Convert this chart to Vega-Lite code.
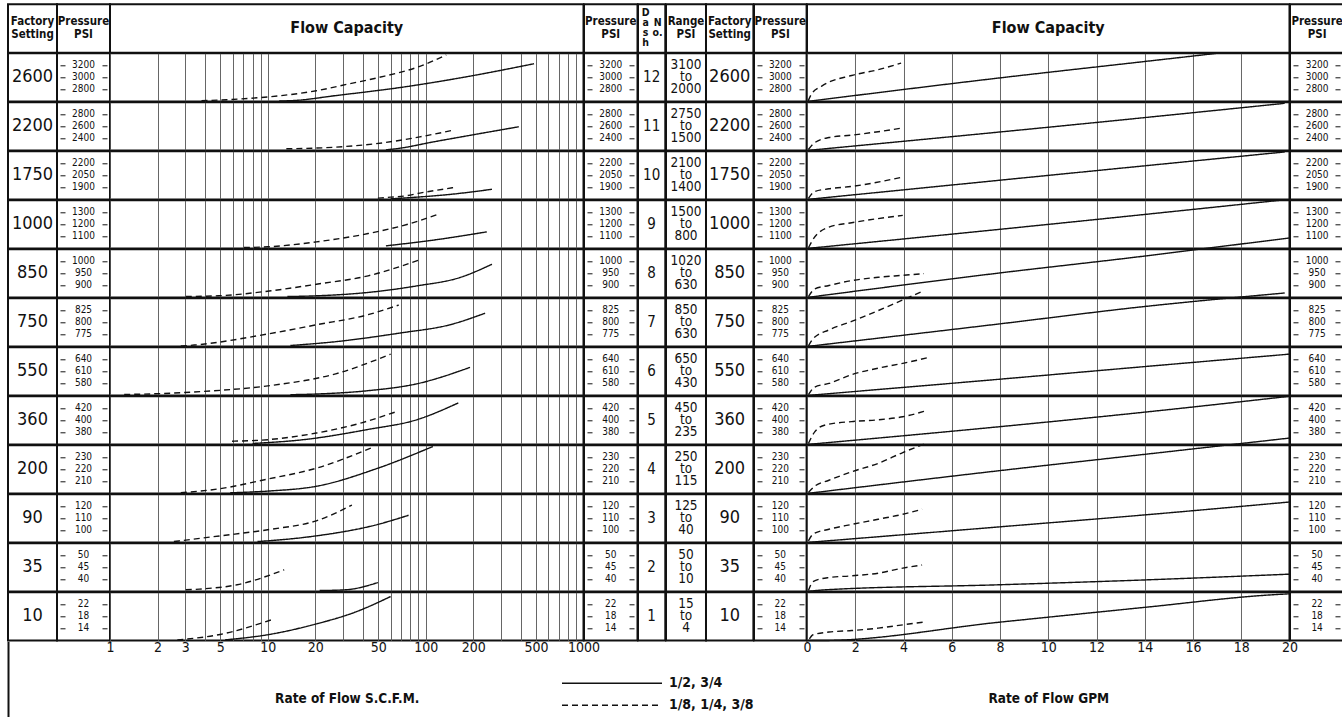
{
"$schema":"https://vega.github.io/schema/vega-lite/v6.json",
"padding":{"left":7,"top":3.3,"right":0,"bottom":0},
"columns":10,"spacing":0,"bounds":"flush","align":"each",
"datasets":{
"p":[
{"r":1,"psi":3200},{"r":1,"psi":3000},{"r":1,"psi":2800},
{"r":2,"psi":2800},{"r":2,"psi":2600},{"r":2,"psi":2400},
{"r":3,"psi":2200},{"r":3,"psi":2050},{"r":3,"psi":1900},
{"r":4,"psi":1300},{"r":4,"psi":1200},{"r":4,"psi":1100},
{"r":5,"psi":1000},{"r":5,"psi":950},{"r":5,"psi":900},
{"r":6,"psi":825},{"r":6,"psi":800},{"r":6,"psi":775},
{"r":7,"psi":640},{"r":7,"psi":610},{"r":7,"psi":580},
{"r":8,"psi":420},{"r":8,"psi":400},{"r":8,"psi":380},
{"r":9,"psi":230},{"r":9,"psi":220},{"r":9,"psi":210},
{"r":10,"psi":120},{"r":10,"psi":110},{"r":10,"psi":100},
{"r":11,"psi":50},{"r":11,"psi":45},{"r":11,"psi":40},
{"r":12,"psi":22},{"r":12,"psi":18},{"r":12,"psi":14}],
"c":[
{"r":1,"u":"S","s":"1/8, 1/4, 3/8","flow":3.8,"psi":2612},{"r":1,"u":"S","s":"1/8, 1/4, 3/8","flow":5.5,"psi":2630},{"r":1,"u":"S","s":"1/8, 1/4, 3/8","flow":10.5,"psi":2681},{"r":1,"u":"S","s":"1/8, 1/4, 3/8","flow":20.3,"psi":2778},{"r":1,"u":"S","s":"1/8, 1/4, 3/8","flow":31.8,"psi":2886},{"r":1,"u":"S","s":"1/8, 1/4, 3/8","flow":49.8,"psi":2995},{"r":1,"u":"S","s":"1/8, 1/4, 3/8","flow":91.8,"psi":3184},{"r":1,"u":"S","s":"1/8, 1/4, 3/8","flow":135,"psi":3373},
{"r":1,"u":"S","s":"1/2, 3/4","flow":11.8,"psi":2608},{"r":1,"u":"S","s":"1/2, 3/4","flow":14.6,"psi":2616},{"r":1,"u":"S","s":"1/2, 3/4","flow":26.9,"psi":2698},{"r":1,"u":"S","s":"1/2, 3/4","flow":69,"psi":2832},{"r":1,"u":"S","s":"1/2, 3/4","flow":182,"psi":3011},{"r":1,"u":"S","s":"1/2, 3/4","flow":486,"psi":3227},
{"r":2,"u":"S","s":"1/8, 1/4, 3/8","flow":13.1,"psi":2228},{"r":2,"u":"S","s":"1/8, 1/4, 3/8","flow":26.9,"psi":2256},{"r":2,"u":"S","s":"1/8, 1/4, 3/8","flow":54.6,"psi":2330},{"r":2,"u":"S","s":"1/8, 1/4, 3/8","flow":91.8,"psi":2426},{"r":2,"u":"S","s":"1/8, 1/4, 3/8","flow":150,"psi":2538},
{"r":2,"u":"S","s":"1/2, 3/4","flow":56,"psi":2211},{"r":2,"u":"S","s":"1/2, 3/4","flow":69,"psi":2239},{"r":2,"u":"S","s":"1/2, 3/4","flow":111,"psi":2341},{"r":2,"u":"S","s":"1/2, 3/4","flow":182,"psi":2442},{"r":2,"u":"S","s":"1/2, 3/4","flow":389,"psi":2594},
{"r":3,"u":"S","s":"1/8, 1/4, 3/8","flow":49.8,"psi":1767},{"r":3,"u":"S","s":"1/8, 1/4, 3/8","flow":60,"psi":1779},{"r":3,"u":"S","s":"1/8, 1/4, 3/8","flow":72.6,"psi":1792},{"r":3,"u":"S","s":"1/8, 1/4, 3/8","flow":91.8,"psi":1830},{"r":3,"u":"S","s":"1/8, 1/4, 3/8","flow":150,"psi":1898},
{"r":3,"u":"S","s":"1/2, 3/4","flow":60,"psi":1758},{"r":3,"u":"S","s":"1/2, 3/4","flow":87.6,"psi":1779},{"r":3,"u":"S","s":"1/2, 3/4","flow":142,"psi":1813},{"r":3,"u":"S","s":"1/2, 3/4","flow":263,"psi":1877},
{"r":4,"u":"S","s":"1/8, 1/4, 3/8","flow":7.05,"psi":1008},{"r":4,"u":"S","s":"1/8, 1/4, 3/8","flow":10,"psi":1014},{"r":4,"u":"S","s":"1/8, 1/4, 3/8","flow":20.3,"psi":1055},{"r":4,"u":"S","s":"1/8, 1/4, 3/8","flow":43.2,"psi":1124},{"r":4,"u":"S","s":"1/8, 1/4, 3/8","flow":79.7,"psi":1207},{"r":4,"u":"S","s":"1/8, 1/4, 3/8","flow":120,"psi":1284},
{"r":4,"u":"S","s":"1/2, 3/4","flow":56,"psi":1022},{"r":4,"u":"S","s":"1/2, 3/4","flow":111,"psi":1069},{"r":4,"u":"S","s":"1/2, 3/4","flow":244,"psi":1138},
{"r":5,"u":"S","s":"1/8, 1/4, 3/8","flow":3.02,"psi":854},{"r":5,"u":"S","s":"1/8, 1/4, 3/8","flow":4.85,"psi":857},{"r":5,"u":"S","s":"1/8, 1/4, 3/8","flow":10.5,"psi":878},{"r":5,"u":"S","s":"1/8, 1/4, 3/8","flow":20.3,"psi":905},{"r":5,"u":"S","s":"1/8, 1/4, 3/8","flow":43.2,"psi":940},{"r":5,"u":"S","s":"1/8, 1/4, 3/8","flow":94,"psi":1009},
{"r":5,"u":"S","s":"1/2, 3/4","flow":13.3,"psi":854},{"r":5,"u":"S","s":"1/2, 3/4","flow":20.3,"psi":857},{"r":5,"u":"S","s":"1/2, 3/4","flow":43.2,"psi":871},{"r":5,"u":"S","s":"1/2, 3/4","flow":87.6,"psi":898},{"r":5,"u":"S","s":"1/2, 3/4","flow":165,"psi":933},{"r":5,"u":"S","s":"1/2, 3/4","flow":263,"psi":988},
{"r":6,"u":"S","s":"1/8, 1/4, 3/8","flow":2.81,"psi":751},{"r":6,"u":"S","s":"1/8, 1/4, 3/8","flow":3.42,"psi":753},{"r":6,"u":"S","s":"1/8, 1/4, 3/8","flow":10,"psi":776},{"r":6,"u":"S","s":"1/8, 1/4, 3/8","flow":20.3,"psi":795},{"r":6,"u":"S","s":"1/8, 1/4, 3/8","flow":43.2,"psi":816},{"r":6,"u":"S","s":"1/8, 1/4, 3/8","flow":67.6,"psi":836},
{"r":6,"u":"S","s":"1/2, 3/4","flow":13.9,"psi":752},{"r":6,"u":"S","s":"1/2, 3/4","flow":26.9,"psi":760},{"r":6,"u":"S","s":"1/2, 3/4","flow":69,"psi":778},{"r":6,"u":"S","s":"1/2, 3/4","flow":142,"psi":795},{"r":6,"u":"S","s":"1/2, 3/4","flow":238,"psi":819},
{"r":7,"u":"S","s":"1/8, 1/4, 3/8","flow":1.23,"psi":552.5},{"r":7,"u":"S","s":"1/8, 1/4, 3/8","flow":1.84,"psi":554},{"r":7,"u":"S","s":"1/8, 1/4, 3/8","flow":3.88,"psi":560},{"r":7,"u":"S","s":"1/8, 1/4, 3/8","flow":10.5,"psi":575},{"r":7,"u":"S","s":"1/8, 1/4, 3/8","flow":26.9,"psi":604},{"r":7,"u":"S","s":"1/8, 1/4, 3/8","flow":60,"psi":653},
{"r":7,"u":"S","s":"1/2, 3/4","flow":13.9,"psi":552},{"r":7,"u":"S","s":"1/2, 3/4","flow":21.3,"psi":554},{"r":7,"u":"S","s":"1/2, 3/4","flow":43.2,"psi":562},{"r":7,"u":"S","s":"1/2, 3/4","flow":87.6,"psi":579},{"r":7,"u":"S","s":"1/2, 3/4","flow":191,"psi":620},
{"r":8,"u":"S","s":"1/8, 1/4, 3/8","flow":5.93,"psi":365.5},{"r":8,"u":"S","s":"1/8, 1/4, 3/8","flow":10,"psi":368},{"r":8,"u":"S","s":"1/8, 1/4, 3/8","flow":20.3,"psi":379},{"r":8,"u":"S","s":"1/8, 1/4, 3/8","flow":39.3,"psi":396},{"r":8,"u":"S","s":"1/8, 1/4, 3/8","flow":66,"psi":415},
{"r":8,"u":"S","s":"1/2, 3/4","flow":8,"psi":361.7},{"r":8,"u":"S","s":"1/2, 3/4","flow":16.8,"psi":368},{"r":8,"u":"S","s":"1/2, 3/4","flow":43.2,"psi":385},{"r":8,"u":"S","s":"1/2, 3/4","flow":87.6,"psi":401},{"r":8,"u":"S","s":"1/2, 3/4","flow":161,"psi":429},
{"r":9,"u":"S","s":"1/8, 1/4, 3/8","flow":2.81,"psi":200.6},{"r":9,"u":"S","s":"1/8, 1/4, 3/8","flow":4.98,"psi":204},{"r":9,"u":"S","s":"1/8, 1/4, 3/8","flow":10,"psi":212},{"r":9,"u":"S","s":"1/8, 1/4, 3/8","flow":20.3,"psi":221},{"r":9,"u":"S","s":"1/8, 1/4, 3/8","flow":47.4,"psi":239},
{"r":9,"u":"S","s":"1/2, 3/4","flow":5.78,"psi":200.6},{"r":9,"u":"S","s":"1/2, 3/4","flow":10,"psi":202},{"r":9,"u":"S","s":"1/2, 3/4","flow":20.3,"psi":206},{"r":9,"u":"S","s":"1/2, 3/4","flow":49.8,"psi":221},{"r":9,"u":"S","s":"1/2, 3/4","flow":111,"psi":239},
{"r":10,"u":"S","s":"1/8, 1/4, 3/8","flow":2.54,"psi":90.8},{"r":10,"u":"S","s":"1/8, 1/4, 3/8","flow":4.98,"psi":95.5},{"r":10,"u":"S","s":"1/8, 1/4, 3/8","flow":10.5,"psi":101},{"r":10,"u":"S","s":"1/8, 1/4, 3/8","flow":20.3,"psi":108},{"r":10,"u":"S","s":"1/8, 1/4, 3/8","flow":34.1,"psi":121},
{"r":10,"u":"S","s":"1/2, 3/4","flow":8.6,"psi":90.8},{"r":10,"u":"S","s":"1/2, 3/4","flow":10.5,"psi":91.6},{"r":10,"u":"S","s":"1/2, 3/4","flow":20.3,"psi":95.5},{"r":10,"u":"S","s":"1/2, 3/4","flow":49.8,"psi":105},{"r":10,"u":"S","s":"1/2, 3/4","flow":77.9,"psi":112.6},
{"r":11,"u":"S","s":"1/8, 1/4, 3/8","flow":3.02,"psi":35.7},{"r":11,"u":"S","s":"1/8, 1/4, 3/8","flow":3.69,"psi":36},{"r":11,"u":"S","s":"1/8, 1/4, 3/8","flow":6.39,"psi":37.8},{"r":11,"u":"S","s":"1/8, 1/4, 3/8","flow":12.7,"psi":44},
{"r":11,"u":"S","s":"1/2, 3/4","flow":21.3,"psi":35.4},{"r":11,"u":"S","s":"1/2, 3/4","flow":31,"psi":35.7},{"r":11,"u":"S","s":"1/2, 3/4","flow":49.8,"psi":38.7},
{"r":12,"u":"S","s":"1/8, 1/4, 3/8","flow":2.67,"psi":10.2},{"r":12,"u":"S","s":"1/8, 1/4, 3/8","flow":4.98,"psi":12},{"r":12,"u":"S","s":"1/8, 1/4, 3/8","flow":11,"psi":17.2},
{"r":12,"u":"S","s":"1/2, 3/4","flow":5.36,"psi":10.2},{"r":12,"u":"S","s":"1/2, 3/4","flow":10.2,"psi":12},{"r":12,"u":"S","s":"1/2, 3/4","flow":20.3,"psi":15.5},{"r":12,"u":"S","s":"1/2, 3/4","flow":35.7,"psi":19.4},{"r":12,"u":"S","s":"1/2, 3/4","flow":60,"psi":24.6},
{"r":1,"u":"G","s":"1/8, 1/4, 3/8","flow":0.05,"psi":2610},{"r":1,"u":"G","s":"1/8, 1/4, 3/8","flow":0.18,"psi":2720},{"r":1,"u":"G","s":"1/8, 1/4, 3/8","flow":0.61,"psi":2856},{"r":1,"u":"G","s":"1/8, 1/4, 3/8","flow":1.85,"psi":3032},{"r":1,"u":"G","s":"1/8, 1/4, 3/8","flow":2.95,"psi":3128},{"r":1,"u":"G","s":"1/8, 1/4, 3/8","flow":3.9,"psi":3237},
{"r":1,"u":"G","s":"1/2, 3/4","flow":0,"psi":2600},{"r":1,"u":"G","s":"1/2, 3/4","flow":8,"psi":2992},{"r":1,"u":"G","s":"1/2, 3/4","flow":14,"psi":3264},{"r":1,"u":"G","s":"1/2, 3/4","flow":17,"psi":3400},
{"r":2,"u":"G","s":"1/8, 1/4, 3/8","flow":0.06,"psi":2217},{"r":2,"u":"G","s":"1/8, 1/4, 3/8","flow":0.32,"psi":2330},{"r":2,"u":"G","s":"1/8, 1/4, 3/8","flow":0.91,"psi":2416},{"r":2,"u":"G","s":"1/8, 1/4, 3/8","flow":1.85,"psi":2455},{"r":2,"u":"G","s":"1/8, 1/4, 3/8","flow":2.95,"psi":2512},{"r":2,"u":"G","s":"1/8, 1/4, 3/8","flow":3.97,"psi":2574},
{"r":2,"u":"G","s":"1/2, 3/4","flow":0,"psi":2200},{"r":2,"u":"G","s":"1/2, 3/4","flow":10,"psi":2586},{"r":2,"u":"G","s":"1/2, 3/4","flow":19.8,"psi":2983},
{"r":3,"u":"G","s":"1/8, 1/4, 3/8","flow":0.06,"psi":1763},{"r":3,"u":"G","s":"1/8, 1/4, 3/8","flow":0.32,"psi":1849},{"r":3,"u":"G","s":"1/8, 1/4, 3/8","flow":0.91,"psi":1883},{"r":3,"u":"G","s":"1/8, 1/4, 3/8","flow":1.85,"psi":1913},{"r":3,"u":"G","s":"1/8, 1/4, 3/8","flow":3.97,"psi":2029},
{"r":3,"u":"G","s":"1/2, 3/4","flow":0,"psi":1750},{"r":3,"u":"G","s":"1/2, 3/4","flow":10,"psi":2050},{"r":3,"u":"G","s":"1/2, 3/4","flow":19.8,"psi":2342},
{"r":4,"u":"G","s":"1/8, 1/4, 3/8","flow":0.06,"psi":1006},{"r":4,"u":"G","s":"1/8, 1/4, 3/8","flow":0.25,"psi":1075},{"r":4,"u":"G","s":"1/8, 1/4, 3/8","flow":0.91,"psi":1178},{"r":4,"u":"G","s":"1/8, 1/4, 3/8","flow":1.85,"psi":1214},{"r":4,"u":"G","s":"1/8, 1/4, 3/8","flow":3.97,"psi":1275},
{"r":4,"u":"G","s":"1/2, 3/4","flow":0,"psi":1000},{"r":4,"u":"G","s":"1/2, 3/4","flow":10,"psi":1200},{"r":4,"u":"G","s":"1/2, 3/4","flow":19.6,"psi":1400},
{"r":5,"u":"G","s":"1/8, 1/4, 3/8","flow":0.06,"psi":854},{"r":5,"u":"G","s":"1/8, 1/4, 3/8","flow":0.32,"psi":885},{"r":5,"u":"G","s":"1/8, 1/4, 3/8","flow":0.91,"psi":900},{"r":5,"u":"G","s":"1/8, 1/4, 3/8","flow":1.85,"psi":920},{"r":5,"u":"G","s":"1/8, 1/4, 3/8","flow":2.95,"psi":934},{"r":5,"u":"G","s":"1/8, 1/4, 3/8","flow":3.97,"psi":942},{"r":5,"u":"G","s":"1/8, 1/4, 3/8","flow":4.85,"psi":949},
{"r":5,"u":"G","s":"1/2, 3/4","flow":0,"psi":850},{"r":5,"u":"G","s":"1/2, 3/4","flow":8,"psi":952},{"r":5,"u":"G","s":"1/2, 3/4","flow":14,"psi":1022},{"r":5,"u":"G","s":"1/2, 3/4","flow":16,"psi":1047},{"r":5,"u":"G","s":"1/2, 3/4","flow":20,"psi":1097},
{"r":6,"u":"G","s":"1/8, 1/4, 3/8","flow":0.06,"psi":751.4},{"r":6,"u":"G","s":"1/8, 1/4, 3/8","flow":0.25,"psi":766},{"r":6,"u":"G","s":"1/8, 1/4, 3/8","flow":0.91,"psi":784.5},{"r":6,"u":"G","s":"1/8, 1/4, 3/8","flow":1.85,"psi":802},{"r":6,"u":"G","s":"1/8, 1/4, 3/8","flow":2.95,"psi":824.5},{"r":6,"u":"G","s":"1/8, 1/4, 3/8","flow":3.9,"psi":845},{"r":6,"u":"G","s":"1/8, 1/4, 3/8","flow":4.85,"psi":866},
{"r":6,"u":"G","s":"1/2, 3/4","flow":0,"psi":750},{"r":6,"u":"G","s":"1/2, 3/4","flow":8,"psi":797},{"r":6,"u":"G","s":"1/2, 3/4","flow":14,"psi":833},{"r":6,"u":"G","s":"1/2, 3/4","flow":19.8,"psi":861},
{"r":7,"u":"G","s":"1/8, 1/4, 3/8","flow":0.06,"psi":552},{"r":7,"u":"G","s":"1/8, 1/4, 3/8","flow":0.32,"psi":571},{"r":7,"u":"G","s":"1/8, 1/4, 3/8","flow":0.91,"psi":580},{"r":7,"u":"G","s":"1/8, 1/4, 3/8","flow":1.85,"psi":602},{"r":7,"u":"G","s":"1/8, 1/4, 3/8","flow":2.95,"psi":618},{"r":7,"u":"G","s":"1/8, 1/4, 3/8","flow":3.97,"psi":630},{"r":7,"u":"G","s":"1/8, 1/4, 3/8","flow":5.07,"psi":645},
{"r":7,"u":"G","s":"1/2, 3/4","flow":0,"psi":550},{"r":7,"u":"G","s":"1/2, 3/4","flow":8,"psi":590.6},{"r":7,"u":"G","s":"1/2, 3/4","flow":14,"psi":622},{"r":7,"u":"G","s":"1/2, 3/4","flow":20,"psi":653},
{"r":8,"u":"G","s":"1/8, 1/4, 3/8","flow":0.06,"psi":361.7},{"r":8,"u":"G","s":"1/8, 1/4, 3/8","flow":0.32,"psi":381},{"r":8,"u":"G","s":"1/8, 1/4, 3/8","flow":0.76,"psi":392.5},{"r":8,"u":"G","s":"1/8, 1/4, 3/8","flow":1.85,"psi":398},{"r":8,"u":"G","s":"1/8, 1/4, 3/8","flow":2.95,"psi":401},{"r":8,"u":"G","s":"1/8, 1/4, 3/8","flow":3.97,"psi":406},{"r":8,"u":"G","s":"1/8, 1/4, 3/8","flow":4.85,"psi":415},
{"r":8,"u":"G","s":"1/2, 3/4","flow":0,"psi":360},{"r":8,"u":"G","s":"1/2, 3/4","flow":8,"psi":389.6},{"r":8,"u":"G","s":"1/2, 3/4","flow":14,"psi":413.7},{"r":8,"u":"G","s":"1/2, 3/4","flow":20,"psi":440},
{"r":9,"u":"G","s":"1/8, 1/4, 3/8","flow":0.06,"psi":200.8},{"r":9,"u":"G","s":"1/8, 1/4, 3/8","flow":0.32,"psi":206},{"r":9,"u":"G","s":"1/8, 1/4, 3/8","flow":0.91,"psi":211},{"r":9,"u":"G","s":"1/8, 1/4, 3/8","flow":1.85,"psi":218},{"r":9,"u":"G","s":"1/8, 1/4, 3/8","flow":2.95,"psi":225},{"r":9,"u":"G","s":"1/8, 1/4, 3/8","flow":3.97,"psi":234},{"r":9,"u":"G","s":"1/8, 1/4, 3/8","flow":4.85,"psi":241},
{"r":9,"u":"G","s":"1/2, 3/4","flow":0,"psi":200},{"r":9,"u":"G","s":"1/2, 3/4","flow":8,"psi":219},{"r":9,"u":"G","s":"1/2, 3/4","flow":14,"psi":232.5},{"r":9,"u":"G","s":"1/2, 3/4","flow":16,"psi":237},{"r":9,"u":"G","s":"1/2, 3/4","flow":20,"psi":246},
{"r":10,"u":"G","s":"1/8, 1/4, 3/8","flow":0.06,"psi":91.4},{"r":10,"u":"G","s":"1/8, 1/4, 3/8","flow":0.25,"psi":96.9},{"r":10,"u":"G","s":"1/8, 1/4, 3/8","flow":0.91,"psi":101},{"r":10,"u":"G","s":"1/8, 1/4, 3/8","flow":1.85,"psi":105},{"r":10,"u":"G","s":"1/8, 1/4, 3/8","flow":2.95,"psi":109.3},{"r":10,"u":"G","s":"1/8, 1/4, 3/8","flow":3.97,"psi":113.4},{"r":10,"u":"G","s":"1/8, 1/4, 3/8","flow":4.77,"psi":117.6},
{"r":10,"u":"G","s":"1/2, 3/4","flow":0,"psi":90},{"r":10,"u":"G","s":"1/2, 3/4","flow":8,"psi":103},{"r":10,"u":"G","s":"1/2, 3/4","flow":14,"psi":112.9},{"r":10,"u":"G","s":"1/2, 3/4","flow":20,"psi":123.6},
{"r":11,"u":"G","s":"1/8, 1/4, 3/8","flow":0.06,"psi":35.4},{"r":11,"u":"G","s":"1/8, 1/4, 3/8","flow":0.25,"psi":39.1},{"r":11,"u":"G","s":"1/8, 1/4, 3/8","flow":0.91,"psi":40.8},{"r":11,"u":"G","s":"1/8, 1/4, 3/8","flow":1.85,"psi":41.5},{"r":11,"u":"G","s":"1/8, 1/4, 3/8","flow":2.95,"psi":42.6},{"r":11,"u":"G","s":"1/8, 1/4, 3/8","flow":3.97,"psi":44.7},{"r":11,"u":"G","s":"1/8, 1/4, 3/8","flow":4.77,"psi":46},
{"r":11,"u":"G","s":"1/2, 3/4","flow":0,"psi":35},{"r":11,"u":"G","s":"1/2, 3/4","flow":0.76,"psi":35.7},{"r":11,"u":"G","s":"1/2, 3/4","flow":8,"psi":37.8},{"r":11,"u":"G","s":"1/2, 3/4","flow":14,"psi":39.8},{"r":11,"u":"G","s":"1/2, 3/4","flow":20,"psi":42.2},
{"r":12,"u":"G","s":"1/8, 1/4, 3/8","flow":0.1,"psi":10.5},{"r":12,"u":"G","s":"1/8, 1/4, 3/8","flow":0.25,"psi":11.9},{"r":12,"u":"G","s":"1/8, 1/4, 3/8","flow":0.91,"psi":12.8},{"r":12,"u":"G","s":"1/8, 1/4, 3/8","flow":1.85,"psi":13.3},{"r":12,"u":"G","s":"1/8, 1/4, 3/8","flow":2.95,"psi":14.1},{"r":12,"u":"G","s":"1/8, 1/4, 3/8","flow":3.97,"psi":15.2},{"r":12,"u":"G","s":"1/8, 1/4, 3/8","flow":4.85,"psi":16.1},
{"r":12,"u":"G","s":"1/2, 3/4","flow":0,"psi":10},{"r":12,"u":"G","s":"1/2, 3/4","flow":0.6,"psi":10},{"r":12,"u":"G","s":"1/2, 3/4","flow":8,"psi":16.1},{"r":12,"u":"G","s":"1/2, 3/4","flow":14,"psi":21},{"r":12,"u":"G","s":"1/2, 3/4","flow":19.15,"psi":25.1},{"r":12,"u":"G","s":"1/2, 3/4","flow":20,"psi":25.5}
]},
"concat":[
{"width":49,"height":48.4,"data":{"values":[{"h":"Factory\nSetting"}]},"mark":{"type":"text","style":"hd"},"encoding":{"text":{"field":"h"}}},
{"width":53,"height":48.4,"data":{"values":[{"h":"Pressure\nPSI"}]},"mark":{"type":"text","style":"hd"},"encoding":{"text":{"field":"h"}}},
{"width":473.5,"height":48.4,"data":{"values":[{"h":"Flow Capacity"}]},"mark":{"type":"text","style":"hf"},"encoding":{"text":{"field":"h"}}},
{"width":53.5,"height":48.4,"data":{"values":[{"h":"Pressure\nPSI"}]},"mark":{"type":"text","style":"hd"},"encoding":{"text":{"field":"h"}}},
{"width":27.3,"height":48.4,"data":{"values":[{"h":"D\na\ns\nh","k":1},{"h":"N\no.","k":2}]},"layer":[{"transform":[{"filter":"datum.k==1"}],"mark":{"type":"text","style":"hd","fontSize":10.5,"dx":-6,"dy":-15,"lineHeight":10},"encoding":{"text":{"field":"h"}}},{"transform":[{"filter":"datum.k==2"}],"mark":{"type":"text","style":"hd","fontSize":10.5,"dx":6,"dy":-5,"lineHeight":10},"encoding":{"text":{"field":"h"}}}]},
{"width":40,"height":48.4,"data":{"values":[{"h":"Range\nPSI"}]},"mark":{"type":"text","style":"hd"},"encoding":{"text":{"field":"h"}}},
{"width":47.4,"height":48.4,"data":{"values":[{"h":"Factory\nSetting"}]},"mark":{"type":"text","style":"hd"},"encoding":{"text":{"field":"h"}}},
{"width":52.6,"height":48.4,"data":{"values":[{"h":"Pressure\nPSI"}]},"mark":{"type":"text","style":"hd"},"encoding":{"text":{"field":"h"}}},
{"width":482.5,"height":48.4,"data":{"values":[{"h":"Flow Capacity"}]},"mark":{"type":"text","style":"hf"},"encoding":{"text":{"field":"h"}}},
{"width":54.2,"height":48.4,"data":{"values":[{"h":"Pressure\nPSI"}]},"mark":{"type":"text","style":"hd"},"encoding":{"text":{"field":"h"}}},

{"width":49,"height":48.2,"data":{"values":[{"v":"2600"}]},"mark":{"type":"text","style":"st"},"encoding":{"text":{"field":"v"}}},
{"width":53,"height":48.2,"data":{"name":"p"},"transform":[{"filter":"datum.r==1"}],"mark":{"type":"text","style":"pl"},"encoding":{"y":{"field":"psi","type":"quantitative","scale":{"domain":[2600,3400]},"axis":{"values":[2800,3000,3200]}},"text":{"field":"psi","type":"quantitative","format":"d"}}},
{"width":473.5,"height":48.2,"data":{"name":"c"},"transform":[{"filter":"datum.r==1&&datum.u=='S'"}],"mark":{"type":"line","clip":true,"interpolate":"monotone"},"encoding":{"x":{"field":"flow","type":"quantitative","scale":{"type":"log","domain":[1,1000]}},"y":{"field":"psi","type":"quantitative","scale":{"domain":[2600,3400]},"axis":null},"strokeDash":{"field":"s","title":null,"scale":{"range":[[1,0],[6,4]]}}}},
{"width":53.5,"height":48.2,"data":{"name":"p"},"transform":[{"filter":"datum.r==1"}],"mark":{"type":"text","style":"pl"},"encoding":{"y":{"field":"psi","type":"quantitative","scale":{"domain":[2600,3400]},"axis":{"values":[2800,3000,3200]}},"text":{"field":"psi","type":"quantitative","format":"d"}}},
{"width":27.3,"height":48.2,"data":{"values":[{"v":"12"}]},"mark":{"type":"text","style":"ds"},"encoding":{"text":{"field":"v"}}},
{"width":40,"height":48.2,"data":{"values":[{"v":"3100\nto\n2000"}]},"mark":{"type":"text","style":"rg"},"encoding":{"text":{"field":"v"}}},
{"width":47.4,"height":48.2,"data":{"values":[{"v":"2600"}]},"mark":{"type":"text","style":"st"},"encoding":{"text":{"field":"v"}}},
{"width":52.6,"height":48.2,"data":{"name":"p"},"transform":[{"filter":"datum.r==1"}],"mark":{"type":"text","style":"pl"},"encoding":{"y":{"field":"psi","type":"quantitative","scale":{"domain":[2600,3400]},"axis":{"values":[2800,3000,3200]}},"text":{"field":"psi","type":"quantitative","format":"d"}}},
{"width":482.5,"height":48.2,"data":{"name":"c"},"transform":[{"filter":"datum.r==1&&datum.u=='G'"}],"mark":{"type":"line","clip":false,"interpolate":"monotone"},"encoding":{"x":{"field":"flow","type":"quantitative","scale":{"domain":[0,20]}},"y":{"field":"psi","type":"quantitative","scale":{"domain":[2600,3400]},"axis":null},"strokeDash":{"field":"s","title":null,"scale":{"range":[[1,0],[6,4]]}}}},
{"width":54.2,"height":48.2,"data":{"name":"p"},"transform":[{"filter":"datum.r==1"}],"mark":{"type":"text","style":"pl"},"encoding":{"y":{"field":"psi","type":"quantitative","scale":{"domain":[2600,3400]},"axis":{"values":[2800,3000,3200]}},"text":{"field":"psi","type":"quantitative","format":"d"}}},

{"width":49,"height":48.2,"data":{"values":[{"v":"2200"}]},"mark":{"type":"text","style":"st"},"encoding":{"text":{"field":"v"}}},
{"width":53,"height":48.2,"data":{"name":"p"},"transform":[{"filter":"datum.r==2"}],"mark":{"type":"text","style":"pl"},"encoding":{"y":{"field":"psi","type":"quantitative","scale":{"domain":[2200,3000]},"axis":{"values":[2400,2600,2800]}},"text":{"field":"psi","type":"quantitative","format":"d"}}},
{"width":473.5,"height":48.2,"data":{"name":"c"},"transform":[{"filter":"datum.r==2&&datum.u=='S'"}],"mark":{"type":"line","clip":true,"interpolate":"monotone"},"encoding":{"x":{"field":"flow","type":"quantitative","scale":{"type":"log","domain":[1,1000]}},"y":{"field":"psi","type":"quantitative","scale":{"domain":[2200,3000]},"axis":null},"strokeDash":{"field":"s","title":null,"scale":{"range":[[1,0],[6,4]]}}}},
{"width":53.5,"height":48.2,"data":{"name":"p"},"transform":[{"filter":"datum.r==2"}],"mark":{"type":"text","style":"pl"},"encoding":{"y":{"field":"psi","type":"quantitative","scale":{"domain":[2200,3000]},"axis":{"values":[2400,2600,2800]}},"text":{"field":"psi","type":"quantitative","format":"d"}}},
{"width":27.3,"height":48.2,"data":{"values":[{"v":"11"}]},"mark":{"type":"text","style":"ds"},"encoding":{"text":{"field":"v"}}},
{"width":40,"height":48.2,"data":{"values":[{"v":"2750\nto\n1500"}]},"mark":{"type":"text","style":"rg"},"encoding":{"text":{"field":"v"}}},
{"width":47.4,"height":48.2,"data":{"values":[{"v":"2200"}]},"mark":{"type":"text","style":"st"},"encoding":{"text":{"field":"v"}}},
{"width":52.6,"height":48.2,"data":{"name":"p"},"transform":[{"filter":"datum.r==2"}],"mark":{"type":"text","style":"pl"},"encoding":{"y":{"field":"psi","type":"quantitative","scale":{"domain":[2200,3000]},"axis":{"values":[2400,2600,2800]}},"text":{"field":"psi","type":"quantitative","format":"d"}}},
{"width":482.5,"height":48.2,"data":{"name":"c"},"transform":[{"filter":"datum.r==2&&datum.u=='G'"}],"mark":{"type":"line","clip":false,"interpolate":"monotone"},"encoding":{"x":{"field":"flow","type":"quantitative","scale":{"domain":[0,20]}},"y":{"field":"psi","type":"quantitative","scale":{"domain":[2200,3000]},"axis":null},"strokeDash":{"field":"s","title":null,"scale":{"range":[[1,0],[6,4]]}}}},
{"width":54.2,"height":48.2,"data":{"name":"p"},"transform":[{"filter":"datum.r==2"}],"mark":{"type":"text","style":"pl"},"encoding":{"y":{"field":"psi","type":"quantitative","scale":{"domain":[2200,3000]},"axis":{"values":[2400,2600,2800]}},"text":{"field":"psi","type":"quantitative","format":"d"}}},

{"width":49,"height":48.2,"data":{"values":[{"v":"1750"}]},"mark":{"type":"text","style":"st"},"encoding":{"text":{"field":"v"}}},
{"width":53,"height":48.2,"data":{"name":"p"},"transform":[{"filter":"datum.r==3"}],"mark":{"type":"text","style":"pl"},"encoding":{"y":{"field":"psi","type":"quantitative","scale":{"domain":[1750,2350]},"axis":{"values":[1900,2050,2200]}},"text":{"field":"psi","type":"quantitative","format":"d"}}},
{"width":473.5,"height":48.2,"data":{"name":"c"},"transform":[{"filter":"datum.r==3&&datum.u=='S'"}],"mark":{"type":"line","clip":true,"interpolate":"monotone"},"encoding":{"x":{"field":"flow","type":"quantitative","scale":{"type":"log","domain":[1,1000]}},"y":{"field":"psi","type":"quantitative","scale":{"domain":[1750,2350]},"axis":null},"strokeDash":{"field":"s","title":null,"scale":{"range":[[1,0],[6,4]]}}}},
{"width":53.5,"height":48.2,"data":{"name":"p"},"transform":[{"filter":"datum.r==3"}],"mark":{"type":"text","style":"pl"},"encoding":{"y":{"field":"psi","type":"quantitative","scale":{"domain":[1750,2350]},"axis":{"values":[1900,2050,2200]}},"text":{"field":"psi","type":"quantitative","format":"d"}}},
{"width":27.3,"height":48.2,"data":{"values":[{"v":"10"}]},"mark":{"type":"text","style":"ds"},"encoding":{"text":{"field":"v"}}},
{"width":40,"height":48.2,"data":{"values":[{"v":"2100\nto\n1400"}]},"mark":{"type":"text","style":"rg"},"encoding":{"text":{"field":"v"}}},
{"width":47.4,"height":48.2,"data":{"values":[{"v":"1750"}]},"mark":{"type":"text","style":"st"},"encoding":{"text":{"field":"v"}}},
{"width":52.6,"height":48.2,"data":{"name":"p"},"transform":[{"filter":"datum.r==3"}],"mark":{"type":"text","style":"pl"},"encoding":{"y":{"field":"psi","type":"quantitative","scale":{"domain":[1750,2350]},"axis":{"values":[1900,2050,2200]}},"text":{"field":"psi","type":"quantitative","format":"d"}}},
{"width":482.5,"height":48.2,"data":{"name":"c"},"transform":[{"filter":"datum.r==3&&datum.u=='G'"}],"mark":{"type":"line","clip":false,"interpolate":"monotone"},"encoding":{"x":{"field":"flow","type":"quantitative","scale":{"domain":[0,20]}},"y":{"field":"psi","type":"quantitative","scale":{"domain":[1750,2350]},"axis":null},"strokeDash":{"field":"s","title":null,"scale":{"range":[[1,0],[6,4]]}}}},
{"width":54.2,"height":48.2,"data":{"name":"p"},"transform":[{"filter":"datum.r==3"}],"mark":{"type":"text","style":"pl"},"encoding":{"y":{"field":"psi","type":"quantitative","scale":{"domain":[1750,2350]},"axis":{"values":[1900,2050,2200]}},"text":{"field":"psi","type":"quantitative","format":"d"}}},

{"width":49,"height":48.2,"data":{"values":[{"v":"1000"}]},"mark":{"type":"text","style":"st"},"encoding":{"text":{"field":"v"}}},
{"width":53,"height":48.2,"data":{"name":"p"},"transform":[{"filter":"datum.r==4"}],"mark":{"type":"text","style":"pl"},"encoding":{"y":{"field":"psi","type":"quantitative","scale":{"domain":[1000,1400]},"axis":{"values":[1100,1200,1300]}},"text":{"field":"psi","type":"quantitative","format":"d"}}},
{"width":473.5,"height":48.2,"data":{"name":"c"},"transform":[{"filter":"datum.r==4&&datum.u=='S'"}],"mark":{"type":"line","clip":true,"interpolate":"monotone"},"encoding":{"x":{"field":"flow","type":"quantitative","scale":{"type":"log","domain":[1,1000]}},"y":{"field":"psi","type":"quantitative","scale":{"domain":[1000,1400]},"axis":null},"strokeDash":{"field":"s","title":null,"scale":{"range":[[1,0],[6,4]]}}}},
{"width":53.5,"height":48.2,"data":{"name":"p"},"transform":[{"filter":"datum.r==4"}],"mark":{"type":"text","style":"pl"},"encoding":{"y":{"field":"psi","type":"quantitative","scale":{"domain":[1000,1400]},"axis":{"values":[1100,1200,1300]}},"text":{"field":"psi","type":"quantitative","format":"d"}}},
{"width":27.3,"height":48.2,"data":{"values":[{"v":"9"}]},"mark":{"type":"text","style":"ds"},"encoding":{"text":{"field":"v"}}},
{"width":40,"height":48.2,"data":{"values":[{"v":"1500\nto\n800"}]},"mark":{"type":"text","style":"rg"},"encoding":{"text":{"field":"v"}}},
{"width":47.4,"height":48.2,"data":{"values":[{"v":"1000"}]},"mark":{"type":"text","style":"st"},"encoding":{"text":{"field":"v"}}},
{"width":52.6,"height":48.2,"data":{"name":"p"},"transform":[{"filter":"datum.r==4"}],"mark":{"type":"text","style":"pl"},"encoding":{"y":{"field":"psi","type":"quantitative","scale":{"domain":[1000,1400]},"axis":{"values":[1100,1200,1300]}},"text":{"field":"psi","type":"quantitative","format":"d"}}},
{"width":482.5,"height":48.2,"data":{"name":"c"},"transform":[{"filter":"datum.r==4&&datum.u=='G'"}],"mark":{"type":"line","clip":false,"interpolate":"monotone"},"encoding":{"x":{"field":"flow","type":"quantitative","scale":{"domain":[0,20]}},"y":{"field":"psi","type":"quantitative","scale":{"domain":[1000,1400]},"axis":null},"strokeDash":{"field":"s","title":null,"scale":{"range":[[1,0],[6,4]]}}}},
{"width":54.2,"height":48.2,"data":{"name":"p"},"transform":[{"filter":"datum.r==4"}],"mark":{"type":"text","style":"pl"},"encoding":{"y":{"field":"psi","type":"quantitative","scale":{"domain":[1000,1400]},"axis":{"values":[1100,1200,1300]}},"text":{"field":"psi","type":"quantitative","format":"d"}}},

{"width":49,"height":48.2,"data":{"values":[{"v":"850"}]},"mark":{"type":"text","style":"st"},"encoding":{"text":{"field":"v"}}},
{"width":53,"height":48.2,"data":{"name":"p"},"transform":[{"filter":"datum.r==5"}],"mark":{"type":"text","style":"pl"},"encoding":{"y":{"field":"psi","type":"quantitative","scale":{"domain":[850,1050]},"axis":{"values":[900,950,1000]}},"text":{"field":"psi","type":"quantitative","format":"d"}}},
{"width":473.5,"height":48.2,"data":{"name":"c"},"transform":[{"filter":"datum.r==5&&datum.u=='S'"}],"mark":{"type":"line","clip":true,"interpolate":"monotone"},"encoding":{"x":{"field":"flow","type":"quantitative","scale":{"type":"log","domain":[1,1000]}},"y":{"field":"psi","type":"quantitative","scale":{"domain":[850,1050]},"axis":null},"strokeDash":{"field":"s","title":null,"scale":{"range":[[1,0],[6,4]]}}}},
{"width":53.5,"height":48.2,"data":{"name":"p"},"transform":[{"filter":"datum.r==5"}],"mark":{"type":"text","style":"pl"},"encoding":{"y":{"field":"psi","type":"quantitative","scale":{"domain":[850,1050]},"axis":{"values":[900,950,1000]}},"text":{"field":"psi","type":"quantitative","format":"d"}}},
{"width":27.3,"height":48.2,"data":{"values":[{"v":"8"}]},"mark":{"type":"text","style":"ds"},"encoding":{"text":{"field":"v"}}},
{"width":40,"height":48.2,"data":{"values":[{"v":"1020\nto\n630"}]},"mark":{"type":"text","style":"rg"},"encoding":{"text":{"field":"v"}}},
{"width":47.4,"height":48.2,"data":{"values":[{"v":"850"}]},"mark":{"type":"text","style":"st"},"encoding":{"text":{"field":"v"}}},
{"width":52.6,"height":48.2,"data":{"name":"p"},"transform":[{"filter":"datum.r==5"}],"mark":{"type":"text","style":"pl"},"encoding":{"y":{"field":"psi","type":"quantitative","scale":{"domain":[850,1050]},"axis":{"values":[900,950,1000]}},"text":{"field":"psi","type":"quantitative","format":"d"}}},
{"width":482.5,"height":48.2,"data":{"name":"c"},"transform":[{"filter":"datum.r==5&&datum.u=='G'"}],"mark":{"type":"line","clip":false,"interpolate":"monotone"},"encoding":{"x":{"field":"flow","type":"quantitative","scale":{"domain":[0,20]}},"y":{"field":"psi","type":"quantitative","scale":{"domain":[850,1050]},"axis":null},"strokeDash":{"field":"s","title":null,"scale":{"range":[[1,0],[6,4]]}}}},
{"width":54.2,"height":48.2,"data":{"name":"p"},"transform":[{"filter":"datum.r==5"}],"mark":{"type":"text","style":"pl"},"encoding":{"y":{"field":"psi","type":"quantitative","scale":{"domain":[850,1050]},"axis":{"values":[900,950,1000]}},"text":{"field":"psi","type":"quantitative","format":"d"}}},

{"width":49,"height":48.2,"data":{"values":[{"v":"750"}]},"mark":{"type":"text","style":"st"},"encoding":{"text":{"field":"v"}}},
{"width":53,"height":48.2,"data":{"name":"p"},"transform":[{"filter":"datum.r==6"}],"mark":{"type":"text","style":"pl"},"encoding":{"y":{"field":"psi","type":"quantitative","scale":{"domain":[750,850]},"axis":{"values":[775,800,825]}},"text":{"field":"psi","type":"quantitative","format":"d"}}},
{"width":473.5,"height":48.2,"data":{"name":"c"},"transform":[{"filter":"datum.r==6&&datum.u=='S'"}],"mark":{"type":"line","clip":true,"interpolate":"monotone"},"encoding":{"x":{"field":"flow","type":"quantitative","scale":{"type":"log","domain":[1,1000]}},"y":{"field":"psi","type":"quantitative","scale":{"domain":[750,850]},"axis":null},"strokeDash":{"field":"s","title":null,"scale":{"range":[[1,0],[6,4]]}}}},
{"width":53.5,"height":48.2,"data":{"name":"p"},"transform":[{"filter":"datum.r==6"}],"mark":{"type":"text","style":"pl"},"encoding":{"y":{"field":"psi","type":"quantitative","scale":{"domain":[750,850]},"axis":{"values":[775,800,825]}},"text":{"field":"psi","type":"quantitative","format":"d"}}},
{"width":27.3,"height":48.2,"data":{"values":[{"v":"7"}]},"mark":{"type":"text","style":"ds"},"encoding":{"text":{"field":"v"}}},
{"width":40,"height":48.2,"data":{"values":[{"v":"850\nto\n630"}]},"mark":{"type":"text","style":"rg"},"encoding":{"text":{"field":"v"}}},
{"width":47.4,"height":48.2,"data":{"values":[{"v":"750"}]},"mark":{"type":"text","style":"st"},"encoding":{"text":{"field":"v"}}},
{"width":52.6,"height":48.2,"data":{"name":"p"},"transform":[{"filter":"datum.r==6"}],"mark":{"type":"text","style":"pl"},"encoding":{"y":{"field":"psi","type":"quantitative","scale":{"domain":[750,850]},"axis":{"values":[775,800,825]}},"text":{"field":"psi","type":"quantitative","format":"d"}}},
{"width":482.5,"height":48.2,"data":{"name":"c"},"transform":[{"filter":"datum.r==6&&datum.u=='G'"}],"mark":{"type":"line","clip":false,"interpolate":"monotone"},"encoding":{"x":{"field":"flow","type":"quantitative","scale":{"domain":[0,20]}},"y":{"field":"psi","type":"quantitative","scale":{"domain":[750,850]},"axis":null},"strokeDash":{"field":"s","title":null,"scale":{"range":[[1,0],[6,4]]}}}},
{"width":54.2,"height":48.2,"data":{"name":"p"},"transform":[{"filter":"datum.r==6"}],"mark":{"type":"text","style":"pl"},"encoding":{"y":{"field":"psi","type":"quantitative","scale":{"domain":[750,850]},"axis":{"values":[775,800,825]}},"text":{"field":"psi","type":"quantitative","format":"d"}}},

{"width":49,"height":48.2,"data":{"values":[{"v":"550"}]},"mark":{"type":"text","style":"st"},"encoding":{"text":{"field":"v"}}},
{"width":53,"height":48.2,"data":{"name":"p"},"transform":[{"filter":"datum.r==7"}],"mark":{"type":"text","style":"pl"},"encoding":{"y":{"field":"psi","type":"quantitative","scale":{"domain":[550,670]},"axis":{"values":[580,610,640]}},"text":{"field":"psi","type":"quantitative","format":"d"}}},
{"width":473.5,"height":48.2,"data":{"name":"c"},"transform":[{"filter":"datum.r==7&&datum.u=='S'"}],"mark":{"type":"line","clip":true,"interpolate":"monotone"},"encoding":{"x":{"field":"flow","type":"quantitative","scale":{"type":"log","domain":[1,1000]}},"y":{"field":"psi","type":"quantitative","scale":{"domain":[550,670]},"axis":null},"strokeDash":{"field":"s","title":null,"scale":{"range":[[1,0],[6,4]]}}}},
{"width":53.5,"height":48.2,"data":{"name":"p"},"transform":[{"filter":"datum.r==7"}],"mark":{"type":"text","style":"pl"},"encoding":{"y":{"field":"psi","type":"quantitative","scale":{"domain":[550,670]},"axis":{"values":[580,610,640]}},"text":{"field":"psi","type":"quantitative","format":"d"}}},
{"width":27.3,"height":48.2,"data":{"values":[{"v":"6"}]},"mark":{"type":"text","style":"ds"},"encoding":{"text":{"field":"v"}}},
{"width":40,"height":48.2,"data":{"values":[{"v":"650\nto\n430"}]},"mark":{"type":"text","style":"rg"},"encoding":{"text":{"field":"v"}}},
{"width":47.4,"height":48.2,"data":{"values":[{"v":"550"}]},"mark":{"type":"text","style":"st"},"encoding":{"text":{"field":"v"}}},
{"width":52.6,"height":48.2,"data":{"name":"p"},"transform":[{"filter":"datum.r==7"}],"mark":{"type":"text","style":"pl"},"encoding":{"y":{"field":"psi","type":"quantitative","scale":{"domain":[550,670]},"axis":{"values":[580,610,640]}},"text":{"field":"psi","type":"quantitative","format":"d"}}},
{"width":482.5,"height":48.2,"data":{"name":"c"},"transform":[{"filter":"datum.r==7&&datum.u=='G'"}],"mark":{"type":"line","clip":false,"interpolate":"monotone"},"encoding":{"x":{"field":"flow","type":"quantitative","scale":{"domain":[0,20]}},"y":{"field":"psi","type":"quantitative","scale":{"domain":[550,670]},"axis":null},"strokeDash":{"field":"s","title":null,"scale":{"range":[[1,0],[6,4]]}}}},
{"width":54.2,"height":48.2,"data":{"name":"p"},"transform":[{"filter":"datum.r==7"}],"mark":{"type":"text","style":"pl"},"encoding":{"y":{"field":"psi","type":"quantitative","scale":{"domain":[550,670]},"axis":{"values":[580,610,640]}},"text":{"field":"psi","type":"quantitative","format":"d"}}},

{"width":49,"height":48.2,"data":{"values":[{"v":"360"}]},"mark":{"type":"text","style":"st"},"encoding":{"text":{"field":"v"}}},
{"width":53,"height":48.2,"data":{"name":"p"},"transform":[{"filter":"datum.r==8"}],"mark":{"type":"text","style":"pl"},"encoding":{"y":{"field":"psi","type":"quantitative","scale":{"domain":[360,440]},"axis":{"values":[380,400,420]}},"text":{"field":"psi","type":"quantitative","format":"d"}}},
{"width":473.5,"height":48.2,"data":{"name":"c"},"transform":[{"filter":"datum.r==8&&datum.u=='S'"}],"mark":{"type":"line","clip":true,"interpolate":"monotone"},"encoding":{"x":{"field":"flow","type":"quantitative","scale":{"type":"log","domain":[1,1000]}},"y":{"field":"psi","type":"quantitative","scale":{"domain":[360,440]},"axis":null},"strokeDash":{"field":"s","title":null,"scale":{"range":[[1,0],[6,4]]}}}},
{"width":53.5,"height":48.2,"data":{"name":"p"},"transform":[{"filter":"datum.r==8"}],"mark":{"type":"text","style":"pl"},"encoding":{"y":{"field":"psi","type":"quantitative","scale":{"domain":[360,440]},"axis":{"values":[380,400,420]}},"text":{"field":"psi","type":"quantitative","format":"d"}}},
{"width":27.3,"height":48.2,"data":{"values":[{"v":"5"}]},"mark":{"type":"text","style":"ds"},"encoding":{"text":{"field":"v"}}},
{"width":40,"height":48.2,"data":{"values":[{"v":"450\nto\n235"}]},"mark":{"type":"text","style":"rg"},"encoding":{"text":{"field":"v"}}},
{"width":47.4,"height":48.2,"data":{"values":[{"v":"360"}]},"mark":{"type":"text","style":"st"},"encoding":{"text":{"field":"v"}}},
{"width":52.6,"height":48.2,"data":{"name":"p"},"transform":[{"filter":"datum.r==8"}],"mark":{"type":"text","style":"pl"},"encoding":{"y":{"field":"psi","type":"quantitative","scale":{"domain":[360,440]},"axis":{"values":[380,400,420]}},"text":{"field":"psi","type":"quantitative","format":"d"}}},
{"width":482.5,"height":48.2,"data":{"name":"c"},"transform":[{"filter":"datum.r==8&&datum.u=='G'"}],"mark":{"type":"line","clip":false,"interpolate":"monotone"},"encoding":{"x":{"field":"flow","type":"quantitative","scale":{"domain":[0,20]}},"y":{"field":"psi","type":"quantitative","scale":{"domain":[360,440]},"axis":null},"strokeDash":{"field":"s","title":null,"scale":{"range":[[1,0],[6,4]]}}}},
{"width":54.2,"height":48.2,"data":{"name":"p"},"transform":[{"filter":"datum.r==8"}],"mark":{"type":"text","style":"pl"},"encoding":{"y":{"field":"psi","type":"quantitative","scale":{"domain":[360,440]},"axis":{"values":[380,400,420]}},"text":{"field":"psi","type":"quantitative","format":"d"}}},

{"width":49,"height":48.2,"data":{"values":[{"v":"200"}]},"mark":{"type":"text","style":"st"},"encoding":{"text":{"field":"v"}}},
{"width":53,"height":48.2,"data":{"name":"p"},"transform":[{"filter":"datum.r==9"}],"mark":{"type":"text","style":"pl"},"encoding":{"y":{"field":"psi","type":"quantitative","scale":{"domain":[200,240]},"axis":{"values":[210,220,230]}},"text":{"field":"psi","type":"quantitative","format":"d"}}},
{"width":473.5,"height":48.2,"data":{"name":"c"},"transform":[{"filter":"datum.r==9&&datum.u=='S'"}],"mark":{"type":"line","clip":true,"interpolate":"monotone"},"encoding":{"x":{"field":"flow","type":"quantitative","scale":{"type":"log","domain":[1,1000]}},"y":{"field":"psi","type":"quantitative","scale":{"domain":[200,240]},"axis":null},"strokeDash":{"field":"s","title":null,"scale":{"range":[[1,0],[6,4]]}}}},
{"width":53.5,"height":48.2,"data":{"name":"p"},"transform":[{"filter":"datum.r==9"}],"mark":{"type":"text","style":"pl"},"encoding":{"y":{"field":"psi","type":"quantitative","scale":{"domain":[200,240]},"axis":{"values":[210,220,230]}},"text":{"field":"psi","type":"quantitative","format":"d"}}},
{"width":27.3,"height":48.2,"data":{"values":[{"v":"4"}]},"mark":{"type":"text","style":"ds"},"encoding":{"text":{"field":"v"}}},
{"width":40,"height":48.2,"data":{"values":[{"v":"250\nto\n115"}]},"mark":{"type":"text","style":"rg"},"encoding":{"text":{"field":"v"}}},
{"width":47.4,"height":48.2,"data":{"values":[{"v":"200"}]},"mark":{"type":"text","style":"st"},"encoding":{"text":{"field":"v"}}},
{"width":52.6,"height":48.2,"data":{"name":"p"},"transform":[{"filter":"datum.r==9"}],"mark":{"type":"text","style":"pl"},"encoding":{"y":{"field":"psi","type":"quantitative","scale":{"domain":[200,240]},"axis":{"values":[210,220,230]}},"text":{"field":"psi","type":"quantitative","format":"d"}}},
{"width":482.5,"height":48.2,"data":{"name":"c"},"transform":[{"filter":"datum.r==9&&datum.u=='G'"}],"mark":{"type":"line","clip":false,"interpolate":"monotone"},"encoding":{"x":{"field":"flow","type":"quantitative","scale":{"domain":[0,20]}},"y":{"field":"psi","type":"quantitative","scale":{"domain":[200,240]},"axis":null},"strokeDash":{"field":"s","title":null,"scale":{"range":[[1,0],[6,4]]}}}},
{"width":54.2,"height":48.2,"data":{"name":"p"},"transform":[{"filter":"datum.r==9"}],"mark":{"type":"text","style":"pl"},"encoding":{"y":{"field":"psi","type":"quantitative","scale":{"domain":[200,240]},"axis":{"values":[210,220,230]}},"text":{"field":"psi","type":"quantitative","format":"d"}}},

{"width":49,"height":48.2,"data":{"values":[{"v":"90"}]},"mark":{"type":"text","style":"st"},"encoding":{"text":{"field":"v"}}},
{"width":53,"height":48.2,"data":{"name":"p"},"transform":[{"filter":"datum.r==10"}],"mark":{"type":"text","style":"pl"},"encoding":{"y":{"field":"psi","type":"quantitative","scale":{"domain":[90,130]},"axis":{"values":[100,110,120]}},"text":{"field":"psi","type":"quantitative","format":"d"}}},
{"width":473.5,"height":48.2,"data":{"name":"c"},"transform":[{"filter":"datum.r==10&&datum.u=='S'"}],"mark":{"type":"line","clip":true,"interpolate":"monotone"},"encoding":{"x":{"field":"flow","type":"quantitative","scale":{"type":"log","domain":[1,1000]}},"y":{"field":"psi","type":"quantitative","scale":{"domain":[90,130]},"axis":null},"strokeDash":{"field":"s","title":null,"scale":{"range":[[1,0],[6,4]]}}}},
{"width":53.5,"height":48.2,"data":{"name":"p"},"transform":[{"filter":"datum.r==10"}],"mark":{"type":"text","style":"pl"},"encoding":{"y":{"field":"psi","type":"quantitative","scale":{"domain":[90,130]},"axis":{"values":[100,110,120]}},"text":{"field":"psi","type":"quantitative","format":"d"}}},
{"width":27.3,"height":48.2,"data":{"values":[{"v":"3"}]},"mark":{"type":"text","style":"ds"},"encoding":{"text":{"field":"v"}}},
{"width":40,"height":48.2,"data":{"values":[{"v":"125\nto\n40"}]},"mark":{"type":"text","style":"rg"},"encoding":{"text":{"field":"v"}}},
{"width":47.4,"height":48.2,"data":{"values":[{"v":"90"}]},"mark":{"type":"text","style":"st"},"encoding":{"text":{"field":"v"}}},
{"width":52.6,"height":48.2,"data":{"name":"p"},"transform":[{"filter":"datum.r==10"}],"mark":{"type":"text","style":"pl"},"encoding":{"y":{"field":"psi","type":"quantitative","scale":{"domain":[90,130]},"axis":{"values":[100,110,120]}},"text":{"field":"psi","type":"quantitative","format":"d"}}},
{"width":482.5,"height":48.2,"data":{"name":"c"},"transform":[{"filter":"datum.r==10&&datum.u=='G'"}],"mark":{"type":"line","clip":false,"interpolate":"monotone"},"encoding":{"x":{"field":"flow","type":"quantitative","scale":{"domain":[0,20]}},"y":{"field":"psi","type":"quantitative","scale":{"domain":[90,130]},"axis":null},"strokeDash":{"field":"s","title":null,"scale":{"range":[[1,0],[6,4]]}}}},
{"width":54.2,"height":48.2,"data":{"name":"p"},"transform":[{"filter":"datum.r==10"}],"mark":{"type":"text","style":"pl"},"encoding":{"y":{"field":"psi","type":"quantitative","scale":{"domain":[90,130]},"axis":{"values":[100,110,120]}},"text":{"field":"psi","type":"quantitative","format":"d"}}},

{"width":49,"height":48.2,"data":{"values":[{"v":"35"}]},"mark":{"type":"text","style":"st"},"encoding":{"text":{"field":"v"}}},
{"width":53,"height":48.2,"data":{"name":"p"},"transform":[{"filter":"datum.r==11"}],"mark":{"type":"text","style":"pl"},"encoding":{"y":{"field":"psi","type":"quantitative","scale":{"domain":[35,55]},"axis":{"values":[40,45,50]}},"text":{"field":"psi","type":"quantitative","format":"d"}}},
{"width":473.5,"height":48.2,"data":{"name":"c"},"transform":[{"filter":"datum.r==11&&datum.u=='S'"}],"mark":{"type":"line","clip":true,"interpolate":"monotone"},"encoding":{"x":{"field":"flow","type":"quantitative","scale":{"type":"log","domain":[1,1000]}},"y":{"field":"psi","type":"quantitative","scale":{"domain":[35,55]},"axis":null},"strokeDash":{"field":"s","title":null,"scale":{"range":[[1,0],[6,4]]}}}},
{"width":53.5,"height":48.2,"data":{"name":"p"},"transform":[{"filter":"datum.r==11"}],"mark":{"type":"text","style":"pl"},"encoding":{"y":{"field":"psi","type":"quantitative","scale":{"domain":[35,55]},"axis":{"values":[40,45,50]}},"text":{"field":"psi","type":"quantitative","format":"d"}}},
{"width":27.3,"height":48.2,"data":{"values":[{"v":"2"}]},"mark":{"type":"text","style":"ds"},"encoding":{"text":{"field":"v"}}},
{"width":40,"height":48.2,"data":{"values":[{"v":"50\nto\n10"}]},"mark":{"type":"text","style":"rg"},"encoding":{"text":{"field":"v"}}},
{"width":47.4,"height":48.2,"data":{"values":[{"v":"35"}]},"mark":{"type":"text","style":"st"},"encoding":{"text":{"field":"v"}}},
{"width":52.6,"height":48.2,"data":{"name":"p"},"transform":[{"filter":"datum.r==11"}],"mark":{"type":"text","style":"pl"},"encoding":{"y":{"field":"psi","type":"quantitative","scale":{"domain":[35,55]},"axis":{"values":[40,45,50]}},"text":{"field":"psi","type":"quantitative","format":"d"}}},
{"width":482.5,"height":48.2,"data":{"name":"c"},"transform":[{"filter":"datum.r==11&&datum.u=='G'"}],"mark":{"type":"line","clip":false,"interpolate":"monotone"},"encoding":{"x":{"field":"flow","type":"quantitative","scale":{"domain":[0,20]}},"y":{"field":"psi","type":"quantitative","scale":{"domain":[35,55]},"axis":null},"strokeDash":{"field":"s","title":null,"scale":{"range":[[1,0],[6,4]]}}}},
{"width":54.2,"height":48.2,"data":{"name":"p"},"transform":[{"filter":"datum.r==11"}],"mark":{"type":"text","style":"pl"},"encoding":{"y":{"field":"psi","type":"quantitative","scale":{"domain":[35,55]},"axis":{"values":[40,45,50]}},"text":{"field":"psi","type":"quantitative","format":"d"}}},

{"width":49,"height":48.2,"data":{"values":[{"v":"10"}]},"mark":{"type":"text","style":"st"},"encoding":{"text":{"field":"v"}}},
{"width":53,"height":48.2,"data":{"name":"p"},"transform":[{"filter":"datum.r==12"}],"mark":{"type":"text","style":"pl"},"encoding":{"y":{"field":"psi","type":"quantitative","scale":{"domain":[10,26]},"axis":{"values":[14,18,22]}},"text":{"field":"psi","type":"quantitative","format":"d"}}},
{"width":473.5,"height":48.2,"data":{"name":"c"},"transform":[{"filter":"datum.r==12&&datum.u=='S'"}],"mark":{"type":"line","clip":true,"interpolate":"monotone"},"encoding":{"x":{"field":"flow","type":"quantitative","scale":{"type":"log","domain":[1,1000]},"axis":{"labels":true,"labelExpr":"indexof([1,2,3,5,10,20,50,100,200,500,1000],datum.value)>=0?''+datum.value:''","title":"Rate of Flow S.C.F.M."}},"y":{"field":"psi","type":"quantitative","scale":{"domain":[10,26]},"axis":null},"strokeDash":{"field":"s","title":null,"scale":{"range":[[1,0],[6,4]]}}}},
{"width":53.5,"height":48.2,"data":{"name":"p"},"transform":[{"filter":"datum.r==12"}],"mark":{"type":"text","style":"pl"},"encoding":{"y":{"field":"psi","type":"quantitative","scale":{"domain":[10,26]},"axis":{"values":[14,18,22]}},"text":{"field":"psi","type":"quantitative","format":"d"}}},
{"width":27.3,"height":48.2,"data":{"values":[{"v":"1"}]},"mark":{"type":"text","style":"ds"},"encoding":{"text":{"field":"v"}}},
{"width":40,"height":48.2,"data":{"values":[{"v":"15\nto\n4"}]},"mark":{"type":"text","style":"rg"},"encoding":{"text":{"field":"v"}}},
{"width":47.4,"height":48.2,"data":{"values":[{"v":"10"}]},"mark":{"type":"text","style":"st"},"encoding":{"text":{"field":"v"}}},
{"width":52.6,"height":48.2,"data":{"name":"p"},"transform":[{"filter":"datum.r==12"}],"mark":{"type":"text","style":"pl"},"encoding":{"y":{"field":"psi","type":"quantitative","scale":{"domain":[10,26]},"axis":{"values":[14,18,22]}},"text":{"field":"psi","type":"quantitative","format":"d"}}},
{"width":482.5,"height":48.2,"data":{"name":"c"},"transform":[{"filter":"datum.r==12&&datum.u=='G'"}],"mark":{"type":"line","clip":false,"interpolate":"monotone"},"encoding":{"x":{"field":"flow","type":"quantitative","scale":{"domain":[0,20]},"axis":{"labels":true,"title":"Rate of Flow GPM"}},"y":{"field":"psi","type":"quantitative","scale":{"domain":[10,26]},"axis":null},"strokeDash":{"field":"s","title":null,"scale":{"range":[[1,0],[6,4]]}}}},
{"width":54.2,"height":48.2,"data":{"name":"p"},"transform":[{"filter":"datum.r==12"}],"mark":{"type":"text","style":"pl"},"encoding":{"y":{"field":"psi","type":"quantitative","scale":{"domain":[10,26]},"axis":{"values":[14,18,22]}},"text":{"field":"psi","type":"quantitative","format":"d"}}},

{"width":49,"height":86,"view":{"stroke":null},"data":{"values":[{"v":0}]},"mark":{"type":"point","opacity":0},"encoding":{"y":{"field":"v","type":"quantitative","axis":{"domain":true,"domainColor":"#111","domainWidth":2,"grid":false}}}},
{"width":53,"height":86,"view":{"stroke":null},"data":{"values":[{"v":" "}]},"mark":"text","encoding":{"text":{"field":"v"}}},
{"width":473.5,"height":86,"view":{"stroke":null},"data":{"values":[{"v":" "}]},"mark":"text","encoding":{"text":{"field":"v"}}},
{"width":53.5,"height":86,"view":{"stroke":null},"data":{"values":[{"v":" "}]},"mark":"text","encoding":{"text":{"field":"v"}}},
{"width":27.3,"height":86,"view":{"stroke":null},"data":{"values":[{"v":" "}]},"mark":"text","encoding":{"text":{"field":"v"}}},
{"width":40,"height":86,"view":{"stroke":null},"data":{"values":[{"v":" "}]},"mark":"text","encoding":{"text":{"field":"v"}}},
{"width":47.4,"height":86,"view":{"stroke":null},"data":{"values":[{"v":" "}]},"mark":"text","encoding":{"text":{"field":"v"}}},
{"width":52.6,"height":86,"view":{"stroke":null},"data":{"values":[{"v":" "}]},"mark":"text","encoding":{"text":{"field":"v"}}},
{"width":482.5,"height":86,"view":{"stroke":null},"data":{"values":[{"v":" "}]},"mark":"text","encoding":{"text":{"field":"v"}}},
{"width":54.2,"height":86,"view":{"stroke":null},"data":{"values":[{"v":0}]},"mark":{"type":"point","opacity":0},"encoding":{"y":{"field":"v","type":"quantitative","axis":{"orient":"right","domain":true,"domainColor":"#111","domainWidth":2,"grid":false}}}}
],
"config":{
"font":"Liberation Sans Narrow, DejaVu Sans Condensed, Roboto Condensed, Liberation Sans, sans-serif",
"view":{"stroke":"#111","strokeWidth":2},
"text":{"color":"#111"},
"line":{"color":"#111","strokeWidth":1.4},
"axisX":{"grid":true,"gridColor":"#555","gridWidth":0.9,"labels":false,"ticks":false,"domain":false,"title":null,"labelFontSize":14,"labelColor":"#111","titleFontSize":13.5,"titleFontWeight":"bold","titleColor":"#111","labelFlush":false,"labelOverlap":false,"labelPadding":0,"titlePadding":37},
"axisY":{"grid":true,"gridDash":[0,3,5,37,5,3],"gridColor":"#111","gridWidth":1,"labels":false,"ticks":false,"domain":false,"title":null},
"legend":{"orient":"none","legendX":593,"legendY":668,"symbolType":"M-5,0H5","symbolSize":400,"symbolStrokeWidth":1.4,"symbolStrokeColor":"#111","labelOffset":46,"labelFontSize":14,"labelFontWeight":"bold","labelColor":"#111","rowPadding":4},
"style":{
"view":{"stroke":"#111","strokeWidth":2},
"hd":{"fontWeight":"bold","fontSize":11.5,"lineHeight":13,"lineBreak":"\n","dy":-6.5},
"hf":{"fontWeight":"bold","fontSize":16},
"st":{"fontSize":18},
"ds":{"fontSize":15},
"rg":{"fontSize":13.5,"lineHeight":12,"lineBreak":"\n","dy":-12},
"pl":{"fontSize":10}
}
}
}
